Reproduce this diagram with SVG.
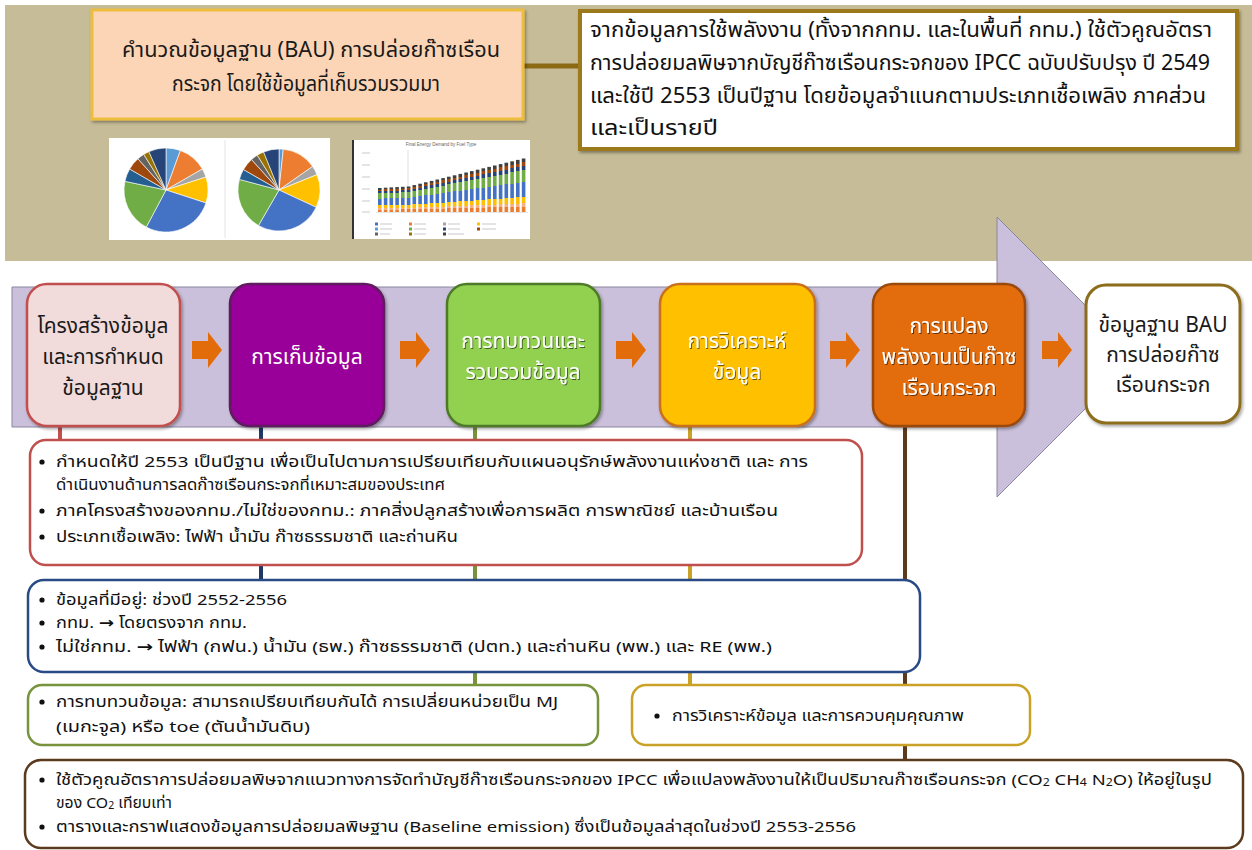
<svg xmlns="http://www.w3.org/2000/svg" width="1252" height="850" viewBox="0 0 1252 850">
<style>
.t{font-family:"Noto Sans Thai","Noto Sans","DejaVu Sans",sans-serif;}
.step{font-size:21px;text-anchor:middle;dominant-baseline:central;}
.wt{fill:#ffffff;}
.dk{fill:#1a1a1a;}
.body{font-size:15px;fill:#111;dominant-baseline:central;}
.top{font-size:21px;fill:#111;dominant-baseline:central;}
.bul{fill:#111;}
.bx{fill:#ffffff;stroke-width:2.5;}
.vl{stroke-width:4;fill:none;}
.arr{fill:#E36C0A;}
.sl{stroke:#fff;stroke-width:0.6;}
</style>
<defs>
<filter id="sh" x="-10%" y="-10%" width="130%" height="130%"><feDropShadow dx="1.5" dy="2" stdDeviation="1.5" flood-color="#000" flood-opacity="0.35"/></filter>
<filter id="ts" x="-5%" y="-20%" width="115%" height="150%"><feDropShadow dx="1" dy="1" stdDeviation="0.7" flood-color="#000" flood-opacity="0.55"/></filter>
<linearGradient id="stack" x1="0" y1="1" x2="0" y2="0">
<stop offset="0" stop-color="#ED7D31"/><stop offset="0.1" stop-color="#ED7D31"/>
<stop offset="0.1" stop-color="#F4B183"/><stop offset="0.16" stop-color="#F4B183"/>
<stop offset="0.16" stop-color="#FFC000"/><stop offset="0.28" stop-color="#FFC000"/>
<stop offset="0.28" stop-color="#4472C4"/><stop offset="0.56" stop-color="#4472C4"/>
<stop offset="0.56" stop-color="#70AD47"/><stop offset="0.78" stop-color="#70AD47"/>
<stop offset="0.78" stop-color="#264478"/><stop offset="0.86" stop-color="#264478"/>
<stop offset="0.86" stop-color="#9E480E"/><stop offset="0.93" stop-color="#9E480E"/>
<stop offset="0.93" stop-color="#404040"/><stop offset="1" stop-color="#404040"/>
</linearGradient>
</defs>

<!-- top tan panel -->
<rect id="topPanel" x="5" y="5" width="1252" height="256" fill="#C6BC97"/>

<!-- connectors -->
<g id="connectors">
<line x1="523" y1="66" x2="582" y2="66" stroke="#8C6A14" stroke-width="5"/>
<line class="vl" x1="60" y1="424" x2="60" y2="442" stroke="#C0504D"/>
<line class="vl" x1="261" y1="424" x2="261" y2="582" stroke="#1F3864"/>
<line class="vl" x1="475" y1="424" x2="475" y2="687" stroke="#77933C"/>
<line class="vl" x1="690" y1="424" x2="690" y2="687" stroke="#C9A227"/>
<line class="vl" x1="905" y1="424" x2="905" y2="762" stroke="#5C3A1E"/>
</g>

<!-- peach title box -->
<g id="bauTitle">
<rect x="92" y="10" width="431" height="109" fill="#FBD5B5" stroke="#EDBE3C" stroke-width="3" filter="url(#sh)"/>
<text class="t" x="311" y="50" font-size="22" fill="#1a1a1a" text-anchor="middle" dominant-baseline="central" textLength="378" lengthAdjust="spacingAndGlyphs">คำนวณข้อมูลฐาน (BAU) การปล่อยก๊าซเรือน</text>
<text class="t" x="306" y="84" font-size="22" fill="#1a1a1a" text-anchor="middle" dominant-baseline="central" textLength="268" lengthAdjust="spacingAndGlyphs">กระจก โดยใช้ข้อมูลที่เก็บรวมรวมมา</text>
</g>

<!-- description box -->
<g id="description">
<rect x="580" y="11" width="657" height="138" fill="#ffffff" stroke="#9C7A1E" stroke-width="4" filter="url(#sh)"/>
<text class="t top" x="590" y="30" textLength="622" lengthAdjust="spacingAndGlyphs">จากข้อมูลการใช้พลังงาน (ทั้งจากกทม. และในพื้นที่ กทม.) ใช้ตัวคูณอัตรา</text>
<text class="t top" x="590" y="63" textLength="620" lengthAdjust="spacingAndGlyphs">การปล่อยมลพิษจากบัญชีก๊าซเรือนกระจกของ IPCC ฉบับปรับปรุง ปี 2549</text>
<text class="t top" x="590" y="96" textLength="616" lengthAdjust="spacingAndGlyphs">และใช้ปี 2553 เป็นปีฐาน โดยข้อมูลจำแนกตามประเภทเชื้อเพลิง ภาคส่วน</text>
<text class="t top" x="590" y="128" textLength="128" lengthAdjust="spacingAndGlyphs">และเป็นรายปี</text>
</g>

<!-- pie charts -->
<g id="pieCharts">
<rect x="109" y="138" width="221" height="102" fill="#ffffff"/>
<line x1="225" y1="140" x2="225" y2="238" stroke="#e4e4e4" stroke-width="1"/>
<g class="sl">
<path d="M166,190 L166,148 A42,42 0 0 1 180.36,150.53 Z" fill="#5B9BD5"/>
<path d="M166,190 L180.36,150.53 A42,42 0 0 1 202.37,169 Z" fill="#ED7D31"/>
<path d="M166,190 L202.37,169 A42,42 0 0 1 205.94,177.02 Z" fill="#A5A5A5"/>
<path d="M166,190 L205.94,177.02 A42,42 0 0 1 205.94,202.98 Z" fill="#FFC000"/>
<path d="M166,190 L205.94,202.98 A42,42 0 0 1 146.28,227.08 Z" fill="#4472C4"/>
<path d="M166,190 L146.28,227.08 A42,42 0 0 1 124.92,181.27 Z" fill="#70AD47"/>
<path d="M166,190 L124.92,181.27 A42,42 0 0 1 129.63,169 Z" fill="#255E91"/>
<path d="M166,190 L129.63,169 A42,42 0 0 1 137.9,158.79 Z" fill="#9E480E"/>
<path d="M166,190 L137.9,158.79 A42,42 0 0 1 143.74,154.38 Z" fill="#636363"/>
<path d="M166,190 L143.74,154.38 A42,42 0 0 1 148.92,151.63 Z" fill="#997300"/>
<path d="M166,190 L148.92,151.63 A42,42 0 0 1 166,148 Z" fill="#264478"/>
<path d="M279,190 L279,149 A41,41 0 0 1 283.29,149.22 Z" fill="#5B9BD5"/>
<path d="M279,190 L283.29,149.22 A41,41 0 0 1 312.58,166.48 Z" fill="#ED7D31"/>
<path d="M279,190 L312.58,166.48 A41,41 0 0 1 317.01,174.64 Z" fill="#A5A5A5"/>
<path d="M279,190 L317.01,174.64 A41,41 0 0 1 316.16,207.33 Z" fill="#FFC000"/>
<path d="M279,190 L316.16,207.33 A41,41 0 0 1 258.5,225.51 Z" fill="#4472C4"/>
<path d="M279,190 L258.5,225.51 A41,41 0 0 1 239.4,179.39 Z" fill="#70AD47"/>
<path d="M279,190 L239.4,179.39 A41,41 0 0 1 243.49,169.5 Z" fill="#255E91"/>
<path d="M279,190 L243.49,169.5 A41,41 0 0 1 251.57,159.53 Z" fill="#9E480E"/>
<path d="M279,190 L251.57,159.53 A41,41 0 0 1 257.27,155.23 Z" fill="#636363"/>
<path d="M279,190 L257.27,155.23 A41,41 0 0 1 263.64,151.99 Z" fill="#997300"/>
<path d="M279,190 L263.64,151.99 A41,41 0 0 1 279,149 Z" fill="#264478"/>
</g>
</g>

<!-- bar chart -->
<g id="barChart">
<rect x="352" y="140" width="178" height="99" fill="#ffffff"/>
<line x1="353" y1="140" x2="353" y2="239" stroke="#333" stroke-width="2"/>
<text x="441" y="146" font-family="Liberation Sans, sans-serif" font-size="4.5" fill="#666" text-anchor="middle">Final Energy Demand by Fuel Type</text>
<line x1="408" y1="150" x2="408" y2="213" stroke="#ccc" stroke-width="0.6"/>
<line x1="376" y1="212.5" x2="528" y2="212.5" stroke="#ccc" stroke-width="0.5"/>
<g fill="url(#stack)">
<rect x="378" y="188" width="3.6" height="24"/>
<rect x="383.8" y="187.7" width="3.6" height="24.3"/>
<rect x="389.5" y="187.4" width="3.6" height="24.6"/>
<rect x="395.3" y="187.1" width="3.6" height="24.9"/>
<rect x="401" y="186.8" width="3.6" height="25.2"/>
<rect x="406.8" y="186.5" width="3.6" height="25.5"/>
<rect x="412.5" y="185.1" width="3.6" height="26.9"/>
<rect x="418.3" y="183.7" width="3.6" height="28.3"/>
<rect x="424" y="182.3" width="3.6" height="29.7"/>
<rect x="429.8" y="180.9" width="3.6" height="31.1"/>
<rect x="435.5" y="179.5" width="3.6" height="32.5"/>
<rect x="441.3" y="178.1" width="3.6" height="33.9"/>
<rect x="447" y="176.7" width="3.6" height="35.3"/>
<rect x="452.8" y="175.3" width="3.6" height="36.7"/>
<rect x="458.5" y="173.9" width="3.6" height="38.1"/>
<rect x="464.3" y="172.5" width="3.6" height="39.5"/>
<rect x="470" y="171.1" width="3.6" height="40.9"/>
<rect x="475.8" y="169.7" width="3.6" height="42.3"/>
<rect x="481.5" y="168.3" width="3.6" height="43.7"/>
<rect x="487.3" y="166.9" width="3.6" height="45.1"/>
<rect x="493" y="165.5" width="3.6" height="46.5"/>
<rect x="498.8" y="164.1" width="3.6" height="47.9"/>
<rect x="504.5" y="162.7" width="3.6" height="49.3"/>
<rect x="510.3" y="161.3" width="3.6" height="50.7"/>
<rect x="516" y="159.9" width="3.6" height="52.1"/>
<rect x="521.8" y="158.5" width="3.6" height="53.5"/>
</g>
<g stroke="#bbb" stroke-width="0.8">
<line x1="362" y1="153" x2="370" y2="153"/><line x1="362" y1="165" x2="370" y2="165"/><line x1="362" y1="177" x2="370" y2="177"/><line x1="362" y1="189" x2="370" y2="189"/><line x1="362" y1="201" x2="370" y2="201"/><line x1="362" y1="212" x2="370" y2="212"/>
<line x1="380" y1="224" x2="392" y2="224"/><line x1="414" y1="224" x2="426" y2="224"/><line x1="448" y1="224" x2="460" y2="224"/><line x1="482" y1="224" x2="496" y2="224"/>
<line x1="380" y1="229" x2="392" y2="229"/><line x1="414" y1="229" x2="426" y2="229"/><line x1="448" y1="229" x2="460" y2="229"/><line x1="482" y1="229" x2="496" y2="229"/>
<line x1="380" y1="234" x2="390" y2="234"/><line x1="414" y1="234" x2="426" y2="234"/><line x1="448" y1="234" x2="464" y2="234"/>
</g>
<g>
<rect x="375" y="222.5" width="3" height="3" fill="#4472C4"/><rect x="409" y="222.5" width="3" height="3" fill="#ED7D31"/><rect x="443" y="222.5" width="3" height="3" fill="#A5A5A5"/><rect x="477" y="222.5" width="3" height="3" fill="#FFC000"/>
<rect x="375" y="227.5" width="3" height="3" fill="#5B9BD5"/><rect x="409" y="227.5" width="3" height="3" fill="#70AD47"/><rect x="443" y="227.5" width="3" height="3" fill="#264478"/><rect x="477" y="227.5" width="3" height="3" fill="#9E480E"/>
<rect x="375" y="232.5" width="3" height="3" fill="#636363"/><rect x="409" y="232.5" width="3" height="3" fill="#997300"/><rect x="443" y="232.5" width="3" height="3" fill="#404040"/>
</g>
</g>

<!-- big process arrow -->
<g id="processArrow">
<polygon points="12,287 997,287 997,217 1137,357 997,497 997,427 12,427" fill="#CBC0DB" stroke="#8A86A0" stroke-width="1"/>
</g>

<!-- small arrows -->
<g id="stepArrows" class="arr">
<path d="M192,341 H208 V332 L222,350 L208,368 V359 H192 Z"/>
<path d="M400,341 H416 V332 L430,350 L416,368 V359 H400 Z"/>
<path d="M616,341 H632 V332 L646,350 L632,368 V359 H616 Z"/>
<path d="M830,341 H846 V332 L860,350 L846,368 V359 H830 Z"/>
<path d="M1042,341 H1058 V332 L1072,350 L1058,368 V359 H1042 Z"/>
</g>

<!-- step boxes -->
<g id="step1">
<rect x="27" y="284" width="153" height="142" rx="20" fill="#F2DCDB" stroke="#C0504D" stroke-width="2.5" filter="url(#sh)"/>
<text class="t step dk" x="103" y="326">โครงสร้างข้อมูล</text>
<text class="t step dk" x="103" y="357">และการกำหนด</text>
<text class="t step dk" x="103" y="388">ข้อมูลฐาน</text>
</g>
<g id="step2">
<rect x="230" y="284" width="154" height="142" rx="20" fill="#990099" stroke="#5E1A5E" stroke-width="2.5" filter="url(#sh)"/>
<text class="t step wt" x="307" y="357">การเก็บข้อมูล</text>
</g>
<g id="step3">
<rect x="447" y="284" width="153" height="142" rx="20" fill="#92D050" stroke="#4E7A28" stroke-width="2.5" filter="url(#sh)"/>
<text class="t step wt" x="523" y="341" filter="url(#ts)">การทบทวนและ</text>
<text class="t step wt" x="523" y="372" filter="url(#ts)">รวบรวมข้อมูล</text>
</g>
<g id="step4">
<rect x="660" y="284" width="155" height="142" rx="20" fill="#FFC000" stroke="#C8701A" stroke-width="2.5" filter="url(#sh)"/>
<text class="t step wt" x="737" y="341" filter="url(#ts)">การวิเคราะห์</text>
<text class="t step wt" x="737" y="372" filter="url(#ts)">ข้อมูล</text>
</g>
<g id="step5">
<rect x="873" y="284" width="152" height="142" rx="20" fill="#E36C0A" stroke="#9A4A10" stroke-width="2.5" filter="url(#sh)"/>
<text class="t step wt" x="949" y="326" filter="url(#ts)">การแปลง</text>
<text class="t step wt" x="949" y="357" filter="url(#ts)">พลังงานเป็นก๊าซ</text>
<text class="t step wt" x="949" y="388" filter="url(#ts)">เรือนกระจก</text>
</g>
<g id="step6">
<rect x="1086" y="285" width="154" height="138" rx="20" fill="#ffffff" stroke="#8C6D1F" stroke-width="3" filter="url(#sh)"/>
<text class="t step dk" x="1163" y="325">ข้อมูลฐาน BAU</text>
<text class="t step dk" x="1163" y="355">การปล่อยก๊าซ</text>
<text class="t step dk" x="1163" y="385">เรือนกระจก</text>
</g>

<!-- detail boxes -->
<g id="detail1">
<rect class="bx" x="30" y="440" width="832" height="125" rx="16" stroke="#C0504D"/>
<circle class="bul" cx="42" cy="462" r="2.6"/>
<text class="t body" x="56" y="462" textLength="752" lengthAdjust="spacingAndGlyphs">กำหนดให้ปี 2553 เป็นปีฐาน เพื่อเป็นไปตามการเปรียบเทียบกับแผนอนุรักษ์พลังงานแห่งชาติ  และ การ</text>
<text class="t body" x="56" y="485" textLength="389" lengthAdjust="spacingAndGlyphs">ดำเนินงานด้านการลดก๊าซเรือนกระจกที่เหมาะสมของประเทศ</text>
<circle class="bul" cx="42" cy="511" r="2.6"/>
<text class="t body" x="56" y="511" textLength="722" lengthAdjust="spacingAndGlyphs">ภาคโครงสร้างของกทม./ไม่ใช่ของกทม.: ภาคสิ่งปลูกสร้างเพื่อการผลิต การพาณิชย์ และบ้านเรือน</text>
<circle class="bul" cx="42" cy="537" r="2.6"/>
<text class="t body" x="56" y="537" textLength="402" lengthAdjust="spacingAndGlyphs">ประเภทเชื้อเพลิง: ไฟฟ้า น้ำมัน ก๊าซธรรมชาติ และถ่านหิน</text>
</g>
<g id="detail2">
<rect class="bx" x="28" y="580" width="892" height="92" rx="16" stroke="#2A4A86"/>
<circle class="bul" cx="42" cy="600" r="2.6"/>
<text class="t body" x="56" y="600" textLength="231" lengthAdjust="spacingAndGlyphs">ข้อมูลที่มีอยู่: ช่วงปี 2552-2556</text>
<circle class="bul" cx="42" cy="623" r="2.6"/>
<text class="t body" x="56" y="623" textLength="191" lengthAdjust="spacingAndGlyphs">กทม. <tspan font-weight="bold">→</tspan> โดยตรงจาก กทม.</text>
<circle class="bul" cx="42" cy="647" r="2.6"/>
<text class="t body" x="56" y="647" textLength="716" lengthAdjust="spacingAndGlyphs">ไม่ใช่กทม. <tspan font-weight="bold">→</tspan> ไฟฟ้า (กฟน.) น้ำมัน (ธพ.) ก๊าซธรรมชาติ (ปตท.) และถ่านหิน (พพ.) และ RE (พพ.)</text>
</g>
<g id="detail3">
<rect class="bx" x="28" y="685" width="570" height="60" rx="14" stroke="#77933C"/>
<circle class="bul" cx="42" cy="702" r="2.6"/>
<text class="t body" x="56" y="702" textLength="502" lengthAdjust="spacingAndGlyphs">การทบทวนข้อมูล: สามารถเปรียบเทียบกันได้ การเปลี่ยนหน่วยเป็น MJ</text>
<text class="t body" x="56" y="727" textLength="254" lengthAdjust="spacingAndGlyphs">(เมกะจูล) หรือ toe (ตันน้ำมันดิบ)</text>
</g>
<g id="detail4">
<rect class="bx" x="632" y="685" width="398" height="60" rx="14" stroke="#C9A227"/>
<circle class="bul" cx="657" cy="716" r="2.6"/>
<text class="t body" x="672" y="716" textLength="292" lengthAdjust="spacingAndGlyphs">การวิเคราะห์ข้อมูล และการควบคุมคุณภาพ</text>
</g>
<g id="detail5">
<rect class="bx" x="25" y="760" width="1218" height="88" rx="16" stroke="#5C3A1E"/>
<circle class="bul" cx="42" cy="780" r="2.6"/>
<text class="t body" x="56" y="780" textLength="1156" lengthAdjust="spacingAndGlyphs">ใช้ตัวคูณอัตราการปล่อยมลพิษจากแนวทางการจัดทำบัญชีก๊าซเรือนกระจกของ  IPCC เพื่อแปลงพลังงานให้เป็นปริมาณก๊าซเรือนกระจก (CO<tspan font-size="10" dy="3">2</tspan><tspan dy="-3"> CH</tspan><tspan font-size="10" dy="3">4</tspan><tspan dy="-3"> N</tspan><tspan font-size="10" dy="3">2</tspan><tspan dy="-3">O) ให้อยู่ในรูป</tspan></text>
<text class="t body" x="56" y="803" textLength="116" lengthAdjust="spacingAndGlyphs">ของ CO<tspan font-size="10" dy="3">2</tspan><tspan dy="-3"> เทียบเท่า</tspan></text>
<circle class="bul" cx="42" cy="827" r="2.6"/>
<text class="t body" x="56" y="827" textLength="800" lengthAdjust="spacingAndGlyphs">ตารางและกราฟแสดงข้อมูลการปล่อยมลพิษฐาน (Baseline emission) ซึ่งเป็นข้อมูลล่าสุดในช่วงปี 2553-2556</text>
</g>
</svg>
